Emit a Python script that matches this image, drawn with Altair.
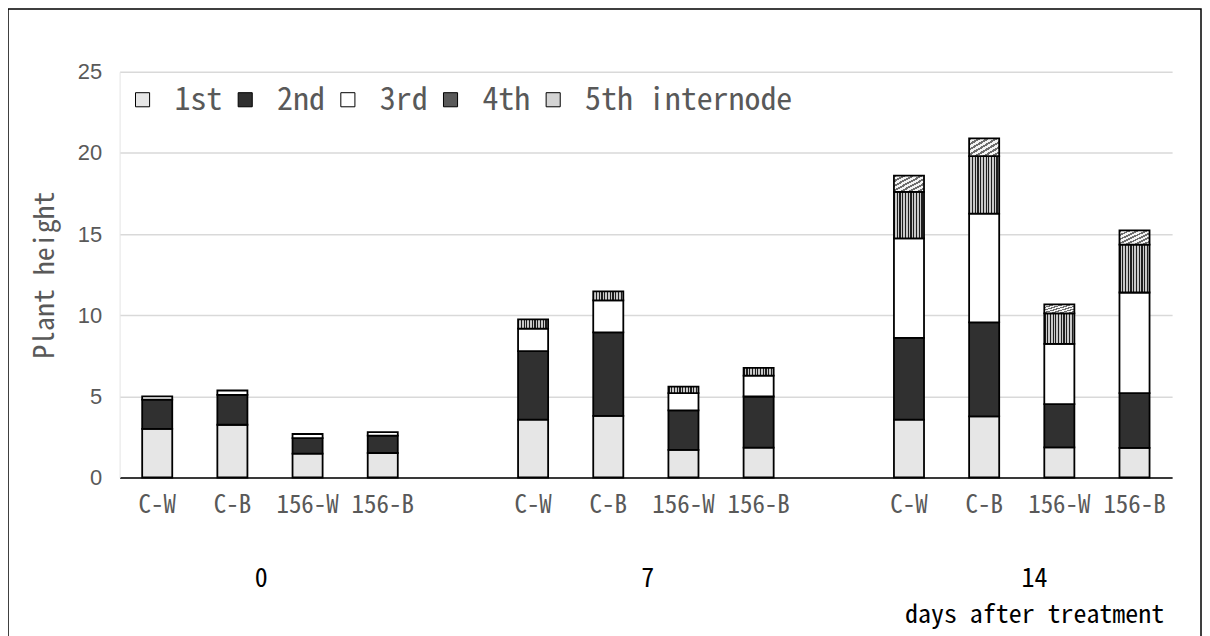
import altair as alt
import pandas as pd

groups = ["0", "7", "14"]
treatments = ["C-W", "C-B", "156-W", "156-B"]
internodes = ["1st", "2nd", "3rd", "4th", "5th internode"]

# segment lengths; bar order: day 0 (C-W, C-B, 156-W, 156-B), day 7 (...), day 14 (...)
first = [3.00, 3.25, 1.47, 1.51, 3.56, 3.80, 1.70, 1.84, 3.56, 3.77, 1.86, 1.82]
second = [1.80, 1.84, 0.96, 1.07, 4.23, 5.14, 2.43, 3.15, 5.04, 5.79, 2.66, 3.38]
third = [0.20, 0.27, 0.25, 0.22, 1.39, 1.98, 1.07, 1.29, 6.14, 6.70, 3.71, 6.20]
fourth = [0.00, 0.00, 0.00, 0.00, 0.56, 0.55, 0.40, 0.47, 2.86, 3.54, 1.88, 2.95]
fifth = [0.00, 0.00, 0.00, 0.00, 0.00, 0.00, 0.00, 0.00, 1.00, 1.10, 0.56, 0.88]

y_title = "Plant height"
x_note = "days after treatment"
y_ticks = [0, 5, 10, 15, 20, 25]

series = [first, second, third, fourth, fifth]

slots = []
for gi, g in enumerate(groups):
    if gi > 0:
        slots.append(f"gap{gi}")
    for t in treatments:
        slots.append(f"{g}|{t}")

rows = []
for gi, g in enumerate(groups):
    for ti, t in enumerate(treatments):
        b = gi * 4 + ti
        for ii, name in enumerate(internodes):
            v = series[ii][b]
            if v > 0:
                rows.append(dict(slot=f"{g}|{t}", internode=name, ord=ii, value=v))
df = pd.DataFrame(rows)


def stripes(n, c1, c2, x2, y2):
    stops = []
    for i in range(n):
        a = i / n
        m = (i + 0.45) / n
        b = (i + 1) / n
        stops += [
            {"offset": a, "color": c1},
            {"offset": m, "color": c1},
            {"offset": m, "color": c2},
            {"offset": b, "color": c2},
        ]
    return {"gradient": "linear", "x1": 0, "y1": 0, "x2": x2, "y2": y2, "stops": stops}


grad4 = stripes(11, "#1e1e1e", "#c8c8c8", 1, 0)
grad5 = stripes(7, "#6e6e6e", "#f4f4f4", 1, 1)

gray = "#595959"
mono = "'Noto Sans Mono CJK JP', 'Liberation Mono', monospace"

bars = alt.Chart(df).mark_bar(stroke="black", strokeWidth=1.8).encode(
    x=alt.X(
        "slot:N",
        sort=slots,
        scale=alt.Scale(domain=slots, paddingInner=0.6, paddingOuter=0.3),
        axis=alt.Axis(
            title=None,
            labelExpr="indexof(datum.value, '|') < 0 ? '' : split(datum.value, '|')[1]",
            labelAngle=0,
            ticks=False,
            tickSize=0,
            labelPadding=15,
            labelFont=mono,
            labelFontSize=25,
            labelColor=gray,
            domainColor="black",
            domainWidth=1.5,
            grid=False,
        ),
    ),
    y=alt.Y(
        "value:Q",
        stack="zero",
        scale=alt.Scale(domain=[0, 25], nice=False),
        axis=alt.Axis(
            values=y_ticks,
            title=y_title,
            titleFont=mono,
            titleFontSize=28,
            titleFontWeight="normal",
            titleColor=gray,
            titlePadding=18,
            labelFont="Liberation Sans",
            labelFontSize=22,
            labelColor=gray,
            labelPadding=18,
            ticks=False,
            tickSize=0,
            domainColor="#e4e4e4",
            gridColor="#d9d9d9",
            gridWidth=1.5,
        ),
    ),
    fill=alt.Fill(
        "internode:N",
        scale=alt.Scale(domain=internodes, range=["#e6e6e6", "#303030", "#ffffff", "#5a5a5a", "#d4d4d4"]),
        legend=alt.Legend(
            title=None,
            orient="none",
            legendX=7,
            legendY=12,
            direction="horizontal",
            columns=5,
            symbolType="square",
            symbolSize=200,
            symbolStrokeColor="black",
            symbolStrokeWidth=1,
            labelFont=mono,
            labelFontSize=32,
            labelColor=gray,
            labelOffset=16,
            columnPadding=6,
            labelLimit=400,
        ),
        condition=[
            {"test": "datum.internode === '4th'", "value": grad4},
            {"test": "datum.internode === '5th internode'", "value": grad5},
        ],
    ),
    order=alt.Order("ord:Q", sort="ascending"),
)

glab = alt.Chart(pd.DataFrame({"g": groups, "c": [gi * 5 + 2 for gi in range(len(groups))]})).mark_text(
    font=mono, fontSize=26, color="black", baseline="alphabetic"
).encode(
    x=alt.X("c:Q", scale=alt.Scale(domain=[0, 14], range=[-13, 1073], nice=False, zero=False), axis=None),
    y=alt.value(517),
    text="g:N",
)

note = alt.Chart(pd.DataFrame({"t": [x_note]})).mark_text(
    font=mono, fontSize=26, color="black", baseline="alphabetic", align="right"
).encode(x=alt.value(1048), y=alt.value(553), text="t:N")

frame = alt.Chart(pd.DataFrame({"k": [0]})).mark_rect(
    fill="white", fillOpacity=0, stroke="black", strokeWidth=1.5
).encode(x=alt.value(-112), x2=alt.value(1085), y=alt.value(-63), y2=alt.value(700))

chart = (
    alt.layer(frame, bars, glab, note)
    .resolve_scale(x="independent")
    .properties(
        width=1056,
        height=407,
        autosize=alt.AutoSizeParams(type="none"),
        padding={"left": 112, "top": 63, "right": 30, "bottom": 160},
        background="white",
    )
    .configure_view(strokeWidth=0)
)

chart.save("out.html", embed_options={"renderer": "svg", "actions": False})
